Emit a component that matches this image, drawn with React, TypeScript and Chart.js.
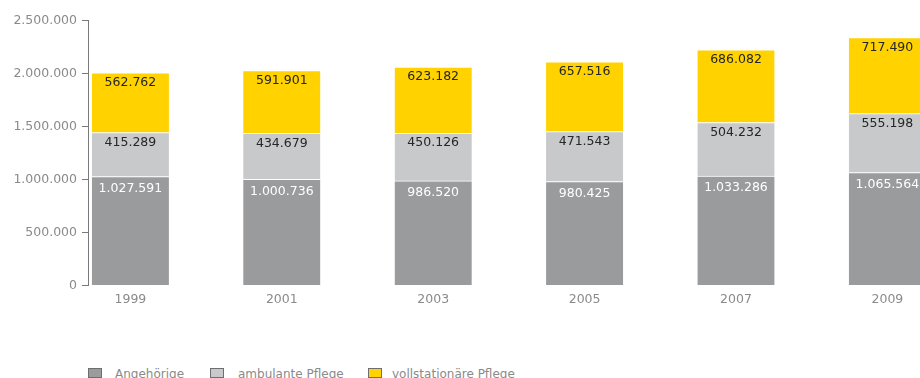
import React, { useEffect, useRef } from "react";
import { Chart, registerables } from "chart.js";

Chart.register(...registerables);

const years = ["1999", "2001", "2003", "2005", "2007", "2009"];
const angehoerige = [1027591, 1000736, 986520, 980425, 1033286, 1065564];
const ambulant = [415289, 434679, 450126, 471543, 504232, 555198];
const vollstationaer = [562762, 591901, 623182, 657516, 686082, 717490];
const yTicks = [0, 500000, 1000000, 1500000, 2000000, 2500000];

const seriesNames = ["Angehörige", "ambulante Pflege", "vollstationäre Pflege"];
const seriesColors = ["#9a9b9d", "#c8c9cb", "#ffd200"];
const labelColors = ["#ffffff", "#262626", "#262626"];
const labelOffsets = [12, 10, 10];

const FONT = "'DejaVu Sans', Verdana, sans-serif";

function fmt(v: number): string {
  return String(Math.round(v)).replace(/\B(?=(\d{3})+(?!\d))/g, ".");
}

const valueLabels = {
  id: "valueLabels",
  afterDatasetsDraw(chart: any) {
    const ctx = chart.ctx;
    ctx.save();
    ctx.font = `12.5px ${FONT}`;
    ctx.textAlign = "center";
    ctx.textBaseline = "middle";
    chart.data.datasets.forEach((ds: any, di: number) => {
      const meta = chart.getDatasetMeta(di);
      meta.data.forEach((el: any, i: number) => {
        ctx.fillStyle = labelColors[di];
        ctx.fillText(fmt(ds.data[i].y), el.x, el.y + labelOffsets[di]);
      });
    });
    ctx.restore();
  },
};

export default function App() {
  const ref = useRef<HTMLCanvasElement | null>(null);

  useEffect(() => {
    document.body.style.margin = "0";
    document.body.style.overflow = "hidden";
    const series = [angehoerige, ambulant, vollstationaer];
    const chart = new Chart(ref.current as HTMLCanvasElement, {
      type: "bar",
      data: {
        datasets: series.map((arr, di) => ({
          label: seriesNames[di],
          data: arr.map((v, i) => ({ x: i, y: v })),
          backgroundColor: seriesColors[di],
          borderColor: "#ffffff",
          borderWidth: { top: 1, bottom: 0, left: 0, right: 0 },
          borderSkipped: false,
          barThickness: 77,
        })),
      },
      options: {
        animation: false,
        responsive: false,
        maintainAspectRatio: false,
        layout: { padding: { top: 20.5, right: 0, bottom: 0, left: 0 } },
        plugins: {
          legend: { display: false },
          tooltip: { enabled: false },
        },
        scales: {
          x: {
            type: "linear",
            stacked: true,
            offset: false,
            min: -0.28,
            max: -0.28 + (980 - 88) / 151.4,
            grid: { display: false, drawTicks: false, offset: false },
            border: { display: false },
            afterBuildTicks: (scale: any) => {
              scale.ticks = years.map((_, i) => ({ value: i }));
            },
            afterFit: (scale: any) => {
              scale.height = 320 - 285.5;
            },
            ticks: {
              autoSkip: false,
              maxRotation: 0,
              padding: 7,
              color: "#8a8a8a",
              font: { family: FONT, size: 12.5 },
              callback: (v: any) => years[Math.round(Number(v))] ?? "",
            },
          },
          y: {
            stacked: true,
            min: 0,
            max: 2500000,
            afterBuildTicks: (scale: any) => {
              scale.ticks = yTicks.map((v) => ({ value: v }));
            },
            afterFit: (scale: any) => {
              scale.width = 88;
            },
            grid: {
              drawOnChartArea: false,
              drawTicks: true,
              tickLength: 6,
              color: "#7a7a7a",
              lineWidth: 1,
            },
            border: { display: true, color: "#7a7a7a", width: 1 },
            ticks: {
              padding: 5,
              color: "#8a8a8a",
              font: { family: FONT, size: 12.5 },
              callback: (v: any) => fmt(Number(v)),
            },
          },
        },
      },
      plugins: [valueLabels],
    });
    return () => chart.destroy();
  }, []);

  const legendPos = [
    { box: 88, text: 115 },
    { box: 210, text: 238 },
    { box: 368, text: 392 },
  ];

  return (
    <div style={{ position: "relative", width: 920, height: 378, overflow: "hidden", background: "#fff" }}>
      <canvas ref={ref} width={980} height={320} style={{ position: "absolute", left: 0, top: 0, width: 980, height: 320 }} />
      {seriesNames.map((name, i) => (
        <React.Fragment key={name}>
          <div
            style={{
              position: "absolute",
              left: legendPos[i].box,
              top: 368,
              width: 12,
              height: 8,
              background: seriesColors[i],
              border: "1px solid #6e6e6e",
            }}
          />
          <div
            style={{
              position: "absolute",
              left: legendPos[i].text,
              top: 367,
              fontFamily: FONT,
              fontSize: 12,
              lineHeight: "14px",
              color: "#8a8a8a",
              whiteSpace: "nowrap",
            }}
          >
            {name}
          </div>
        </React.Fragment>
      ))}
    </div>
  );
}
